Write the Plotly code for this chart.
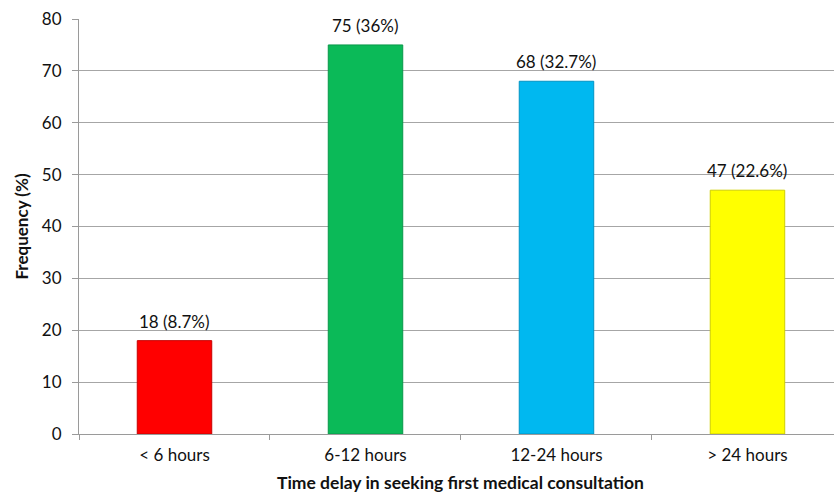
import plotly.graph_objects as go

categories = ["< 6 hours", "6-12 hours", "12-24 hours", "> 24 hours"]
counts = [18, 75, 68, 47]
percents = ["8.7", "36", "32.7", "22.6"]
bar_colors = ["#FF0000", "#0BBA58", "#00B8F0", "#FFFF00"]
edge_colors = ["#C80000", "#08984A", "#0094C4", "#CFCF00"]
y_ticks = [0, 10, 20, 30, 40, 50, 60, 70, 80]

labels = [f"{c} ({p}%)" for c, p in zip(counts, percents)]

FONT = "Lato, Open Sans, sans-serif"
AXIS_GREY = "#9A9A9A"

fig = go.Figure(
    go.Bar(
        x=categories,
        y=counts,
        width=0.39,
        marker=dict(color=bar_colors, line=dict(color=edge_colors, width=1)),
        hoverinfo="x+y",
    )
)

# value labels sitting above each bar
for cat, val, lab in zip(categories, counts, labels):
    fig.add_annotation(
        x=cat, y=val, text=lab, showarrow=False,
        yanchor="bottom", yshift=7,
        font=dict(size=17, color="#111111", family=FONT),
    )

# x-axis title, centred under the full category band
fig.add_annotation(
    xref="paper", yref="paper", x=0.505, y=-0.086,
    xanchor="center", yanchor="top", showarrow=False,
    text="<b>Time delay in seeking first medical consultation</b>",
    font=dict(size=17.5, color="#111111", family=FONT),
)

fig.update_layout(
    width=834,
    height=493,
    margin=dict(l=79, r=0, t=19, b=59),
    paper_bgcolor="white",
    plot_bgcolor="white",
    showlegend=False,
    font=dict(family=FONT, color="#111111"),
)

fig.update_xaxes(
    range=[-0.5, 3.453],
    showline=True,
    linecolor=AXIS_GREY,
    linewidth=1,
    ticks="outside",
    tickson="boundaries",
    ticklen=5,
    tickcolor=AXIS_GREY,
    ticklabelstandoff=6,
    tickfont=dict(size=17, family=FONT),
    showgrid=False,
)

fig.update_yaxes(
    range=[0, 80],
    tickvals=y_ticks,
    showline=True,
    linecolor=AXIS_GREY,
    linewidth=1,
    ticks="outside",
    ticklen=6,
    tickcolor=AXIS_GREY,
    ticklabelstandoff=7,
    showgrid=True,
    gridcolor="#A6A6A6",
    gridwidth=1,
    zeroline=False,
    tickfont=dict(size=17, family=FONT),
    title=dict(
        text="<b>Frequency (%)</b>",
        font=dict(size=17, family=FONT),
        standoff=8,
    ),
)

fig.write_html("out.html")
